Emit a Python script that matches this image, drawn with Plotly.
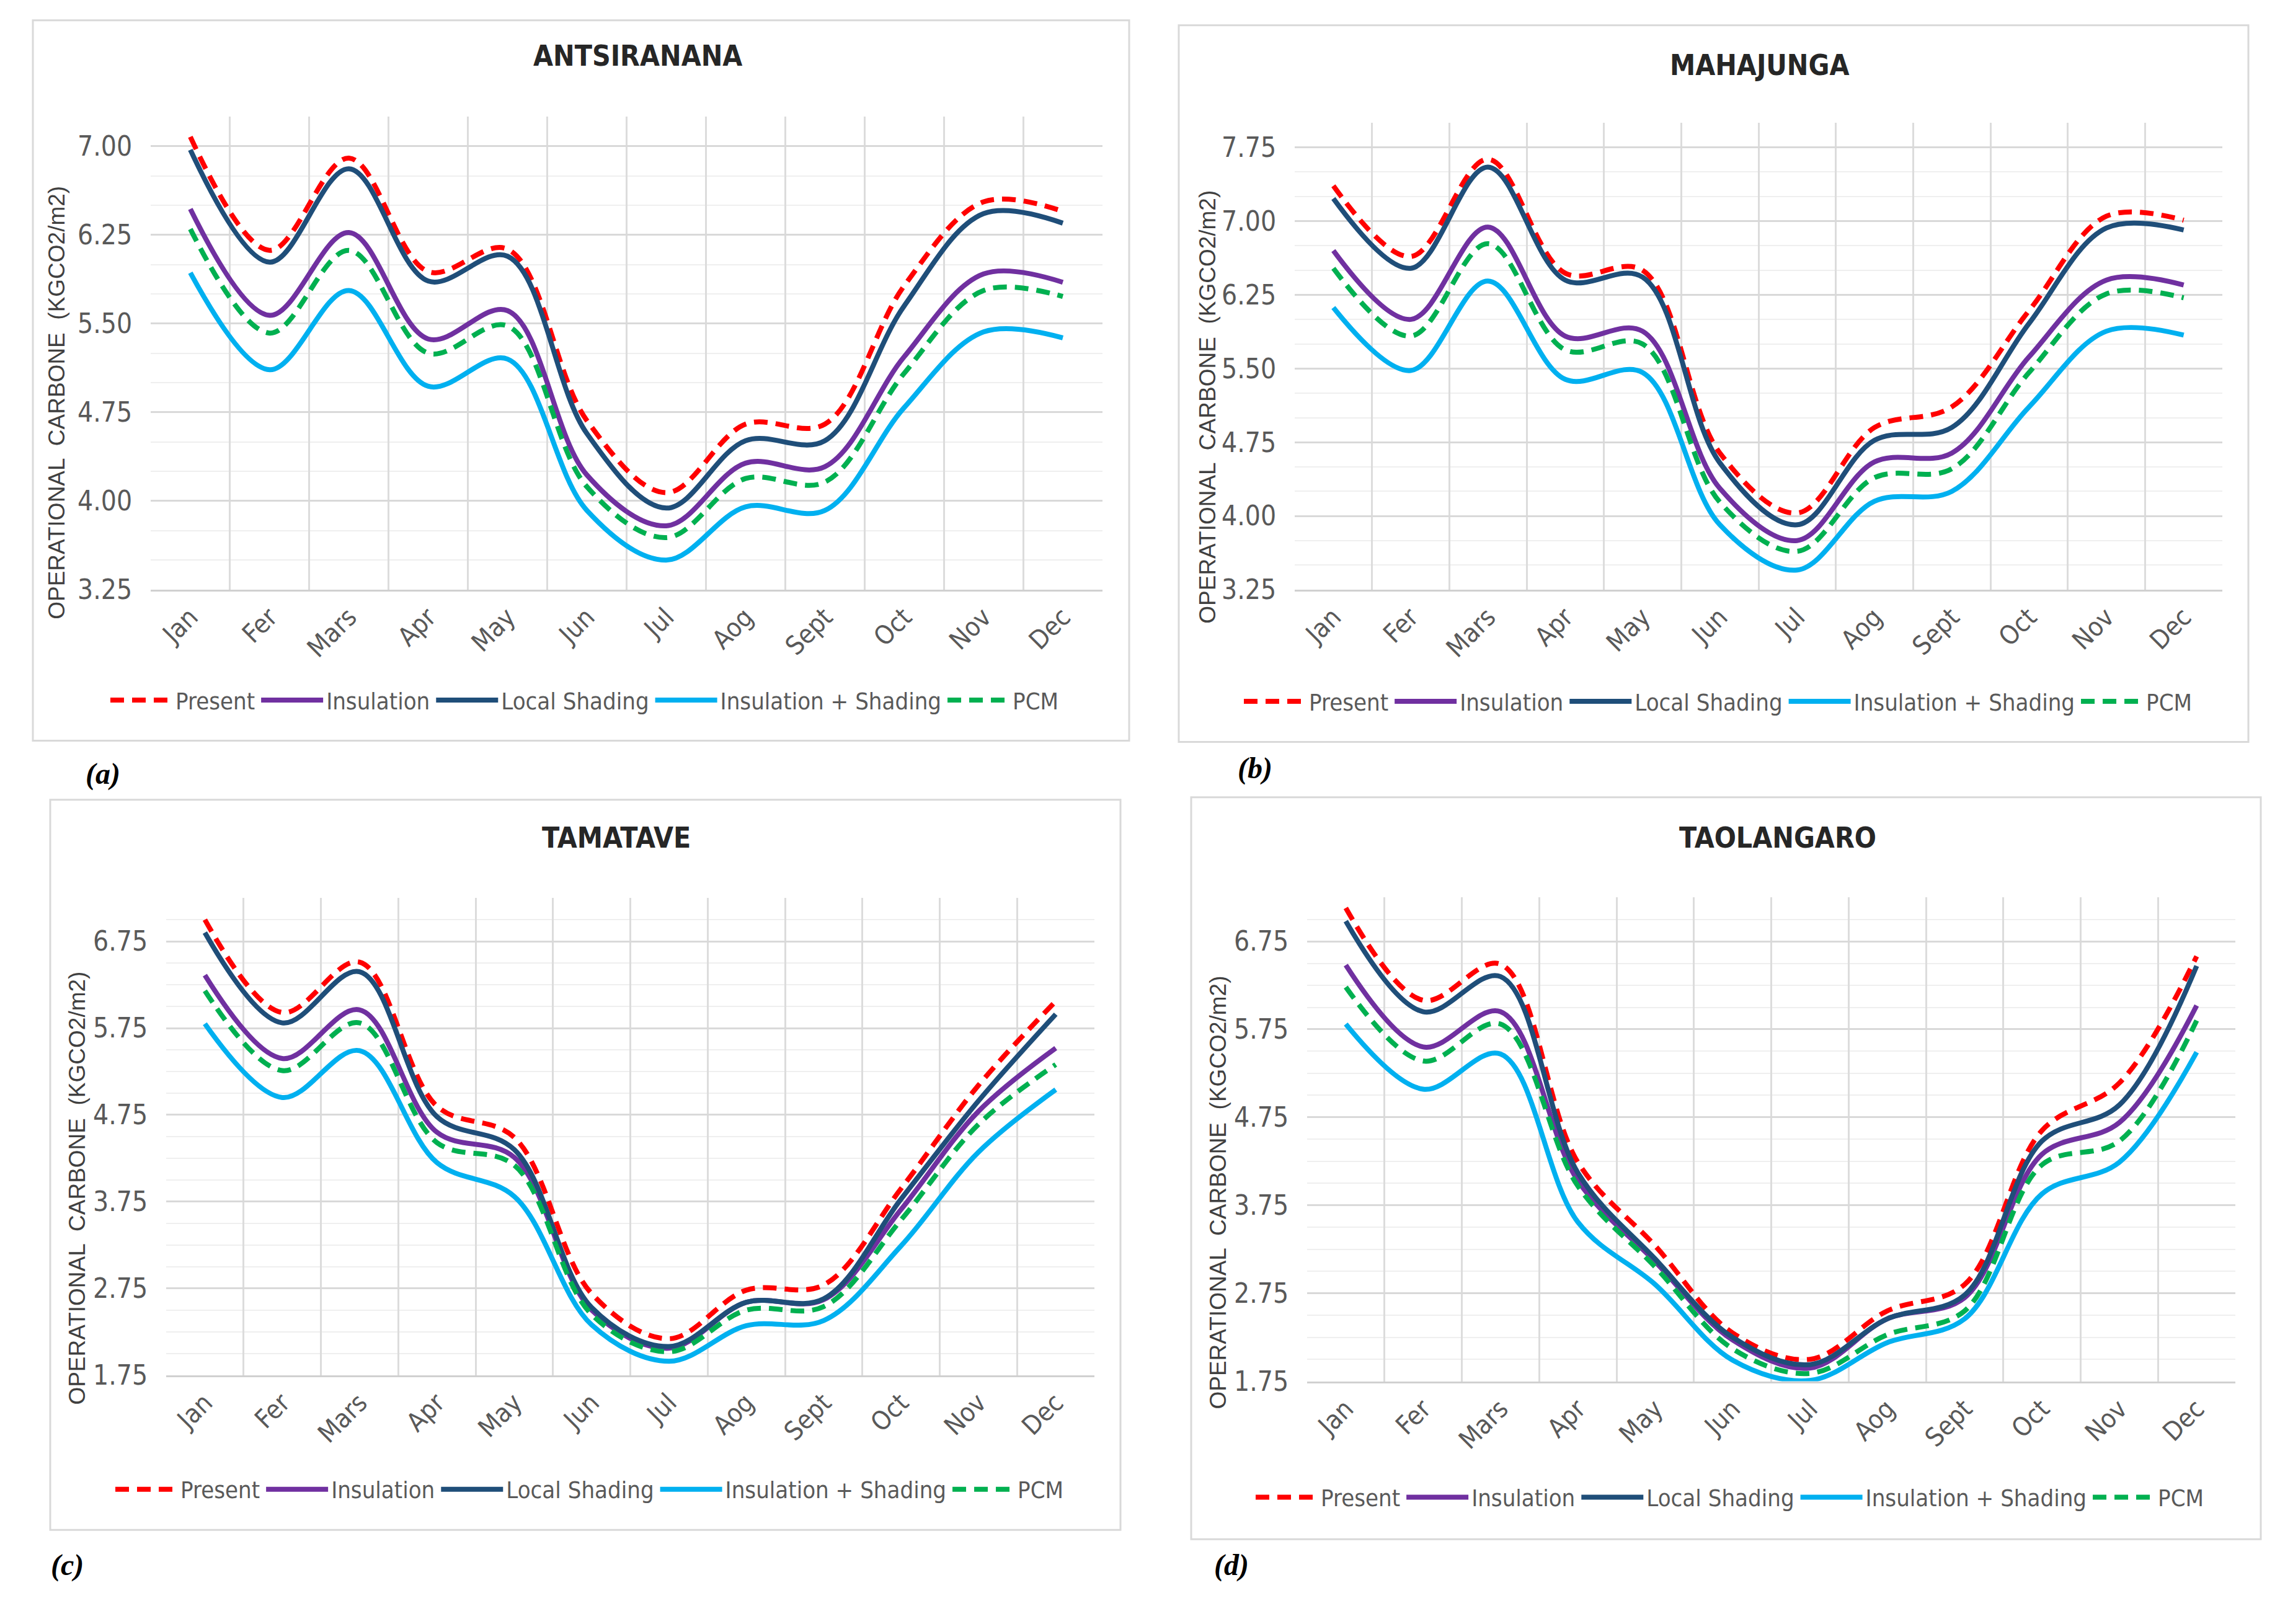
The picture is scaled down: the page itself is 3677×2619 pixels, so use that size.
import plotly.graph_objects as go

W, H = 3677, 2619

# ---------------- data ----------------
months = ["Jan", "Fer", "Mars", "Apr", "May", "Jun", "Jul", "Aog", "Sept", "Oct", "Nov", "Dec"]
series_names = ["Present", "Insulation", "Local Shading", "Insulation + Shading", "PCM"]
city_titles = ["ANTSIRANANA", "MAHAJUNGA", "TAMATAVE", "TAOLANGARO"]
panel_labels = ["(a)", "(b)", "(c)", "(d)"]

ant_present = [7.08, 6.12, 6.90, 5.94, 6.13, 4.68, 4.07, 4.65, 4.65, 5.82, 6.53, 6.45]
ant_insulation = [6.47, 5.57, 6.27, 5.37, 5.61, 4.22, 3.79, 4.32, 4.29, 5.22, 5.92, 5.85]
ant_shading = [6.97, 6.02, 6.81, 5.86, 6.07, 4.57, 3.94, 4.51, 4.51, 5.65, 6.43, 6.35]
ant_ins_shading = [5.93, 5.11, 5.78, 4.97, 5.20, 3.92, 3.50, 3.95, 3.92, 4.79, 5.43, 5.38]
ant_pcm = [6.30, 5.42, 6.12, 5.25, 5.48, 4.12, 3.69, 4.19, 4.16, 5.08, 5.78, 5.73]

mah_present = [7.36, 6.64, 7.63, 6.47, 6.50, 4.64, 4.03, 4.90, 5.11, 6.09, 7.05, 7.01]
mah_insulation = [6.70, 6.00, 6.94, 5.83, 5.88, 4.28, 3.75, 4.55, 4.64, 5.62, 6.40, 6.35]
mah_shading = [7.23, 6.52, 7.55, 6.40, 6.43, 4.54, 3.91, 4.77, 4.90, 5.96, 6.93, 6.91]
mah_ins_shading = [6.12, 5.48, 6.39, 5.39, 5.46, 3.91, 3.45, 4.15, 4.25, 5.11, 5.88, 5.84]
mah_pcm = [6.52, 5.83, 6.77, 5.69, 5.75, 4.14, 3.64, 4.39, 4.48, 5.46, 6.26, 6.22]

tam_present = [7.00, 5.93, 6.51, 4.85, 4.49, 2.69, 2.17, 2.73, 2.79, 3.90, 5.09, 6.06]
tam_insulation = [6.36, 5.40, 5.96, 4.55, 4.26, 2.50, 2.06, 2.59, 2.62, 3.66, 4.79, 5.52]
tam_shading = [6.85, 5.81, 6.40, 4.73, 4.35, 2.53, 2.08, 2.59, 2.63, 3.78, 4.91, 5.91]
tam_ins_shading = [5.80, 4.95, 5.49, 4.20, 3.81, 2.33, 1.91, 2.32, 2.38, 3.24, 4.32, 5.04]
tam_pcm = [6.18, 5.26, 5.81, 4.43, 4.17, 2.45, 2.02, 2.50, 2.54, 3.54, 4.64, 5.33]

tao_present = [7.13, 6.08, 6.49, 4.24, 3.29, 2.30, 2.00, 2.55, 2.85, 4.60, 5.14, 6.58]
tao_insulation = [6.48, 5.55, 5.95, 4.03, 3.11, 2.22, 1.90, 2.46, 2.70, 4.33, 4.69, 6.02]
tao_shading = [6.98, 5.95, 6.35, 4.12, 3.14, 2.25, 1.94, 2.46, 2.73, 4.48, 4.89, 6.47]
tao_ins_shading = [5.81, 5.07, 5.47, 3.56, 2.85, 1.99, 1.76, 2.19, 2.46, 3.88, 4.24, 5.49]
tao_pcm = [6.23, 5.39, 5.81, 3.97, 3.05, 2.12, 1.84, 2.28, 2.55, 4.21, 4.48, 5.85]

ab_ticks = [3.25, 4.00, 4.75, 5.50, 6.25, 7.00]
ab_ticktext = ["3.25", "4.00", "4.75", "5.50", "6.25", "7.00"]
b_ticks = [3.25, 4.00, 4.75, 5.50, 6.25, 7.00, 7.75]
b_ticktext = ["3.25", "4.00", "4.75", "5.50", "6.25", "7.00", "7.75"]
cd_ticks = [1.75, 2.75, 3.75, 4.75, 5.75, 6.75]
cd_ticktext = ["1.75", "2.75", "3.75", "4.75", "5.75", "6.75"]

panels = [
    [ant_present, ant_insulation, ant_shading, ant_ins_shading, ant_pcm],
    [mah_present, mah_insulation, mah_shading, mah_ins_shading, mah_pcm],
    [tam_present, tam_insulation, tam_shading, tam_ins_shading, tam_pcm],
    [tao_present, tao_insulation, tao_shading, tao_ins_shading, tao_pcm],
]
y_ranges = [[3.25, 7.25], [3.25, 8.0], [1.75, 7.25], [1.75, 7.25]]
y_ticks = [(ab_ticks, ab_ticktext), (b_ticks, b_ticktext), (cd_ticks, cd_ticktext), (cd_ticks, cd_ticktext)]
y_tick0 = [3.25, 3.25, 1.75, 1.75]

# ---------------- styles ----------------
colors = ["#FF0000", "#7030A0", "#1F4E79", "#00B0F0", "#00B050"]
dashes = ["22px,13px", "solid", "solid", "solid", "22px,13px"]
NARROW = "Liberation Sans Narrow, Arial Narrow, DejaVu Sans Condensed, Roboto, sans-serif"
SANS = "Liberation Sans, Arial, sans-serif"
SERIF = "Liberation Serif, Times New Roman, serif"

# pixel geometry (x0, x1, ytop, ybottom) of plot areas
plot_px = [(235, 1770, 182, 952), (2080, 3576, 192, 952), (260, 1757, 1454, 2231), (2100, 3597, 1453, 2241)]
box_px = [(45, 1813, 25, 1198), (1893, 3618, 33, 1200), (73, 1799, 1294, 2483), (1913, 3638, 1290, 2498)]
title_px = [(1021, 83), (2830, 98), (986, 1356), (2859, 1356)]
legend_px = [(935, 1132), (2763, 1134), (943, 2417), (2782, 2430)]
ytitle_px = [(84, 648), (1940, 655), (117, 1927), (1957, 1934)]
label_px = [(158, 1252), (2016, 1243), (100, 2540), (1978, 2540)]


def px(x):
    return x / W


def py(y):
    return 1 - y / H


fig = go.Figure()
legend_ids = ["legend", "legend2", "legend3", "legend4"]

for p, data in enumerate(panels):
    ax = "" if p == 0 else str(p + 1)
    for s, vals in enumerate(data):
        fig.add_trace(go.Scatter(
            x=months, y=vals, mode="lines", name=series_names[s],
            line=dict(color=colors[s], width=8, dash=dashes[s], shape="spline", smoothing=1.0),
            xaxis="x" + ax, yaxis="y" + ax, legend=legend_ids[p],
            hoverinfo="skip",
        ))

layout = dict(
    width=W, height=H, margin=dict(l=0, r=0, t=0, b=0),
    paper_bgcolor="white", plot_bgcolor="white", showlegend=True,
)

shapes = []
annotations = []
for p in range(4):
    ax = "" if p == 0 else str(p + 1)
    x0, x1, yt, yb = plot_px[p]
    layout["xaxis" + ax] = dict(
        domain=[px(x0), px(x1)], anchor="y" + ax, type="category",
        range=[-0.5, 11.5], tickson="boundaries", showgrid=True,
        gridcolor="#dcdcdc", gridwidth=3, showline=True, linecolor="#d0d0d0", linewidth=3,
        tickangle=-45, ticks="outside", ticklen=22, tickcolor="rgba(0,0,0,0)",
        tickfont=dict(family=NARROW, size=42, color="#595959"), zeroline=False,
        fixedrange=True,
    )
    tv, tt = y_ticks[p]
    layout["yaxis" + ax] = dict(
        domain=[py(yb), py(yt)], anchor="x" + ax, range=y_ranges[p],
        tickmode="array", tickvals=tv, ticktext=tt, showgrid=True,
        gridcolor="#d9d9d9", gridwidth=3, zeroline=False, showline=False,
        ticks="outside", ticklen=20, tickcolor="rgba(0,0,0,0)",
        tickfont=dict(family=NARROW, size=44, color="#595959"),
        minor=dict(tickmode="linear", tick0=y_tick0[p], dtick=0.25, showgrid=True,
                   gridcolor="#efefef", gridwidth=2, ticks=""),
        fixedrange=True,
    )
    lx, ly = legend_px[p]
    layout[legend_ids[p]] = dict(
        orientation="h", x=px(lx), y=py(ly), xanchor="center", yanchor="middle",
        font=dict(family=NARROW, size=38, color="#595959"), itemwidth=100,
        bgcolor="rgba(0,0,0,0)", traceorder="normal",
    )
    bx0, bx1, byt, byb = box_px[p]
    shapes.append(dict(type="rect", xref="paper", yref="paper",
                       x0=px(bx0), x1=px(bx1), y0=py(byb), y1=py(byt),
                       line=dict(color="#d9d9d9", width=3), layer="below"))
    tx, ty = title_px[p]
    annotations.append(dict(text="<b>" + city_titles[p] + "</b>", x=px(tx), y=py(ty),
                            xref="paper", yref="paper", showarrow=False,
                            xanchor="center", yanchor="middle",
                            font=dict(family=NARROW, size=46, color="#262626")))
    yx, yy = ytitle_px[p]
    annotations.append(dict(text="OPERATIONAL  CARBONE  (KGCO2/m2)", x=px(yx), y=py(yy),
                            xref="paper", yref="paper", showarrow=False, textangle=-90,
                            xanchor="center", yanchor="middle",
                            font=dict(family=SANS, size=37, color="#404040")))
    lbx, lby = label_px[p]
    annotations.append(dict(text="<b><i>" + panel_labels[p] + "</i></b>", x=px(lbx), y=py(lby),
                            xref="paper", yref="paper", showarrow=False,
                            xanchor="center", yanchor="middle",
                            font=dict(family=SERIF, size=48, color="#000000")))

layout["shapes"] = shapes
layout["annotations"] = annotations
fig.update_layout(**layout)

fig.write_html("out.html", config={"displayModeBar": False})
